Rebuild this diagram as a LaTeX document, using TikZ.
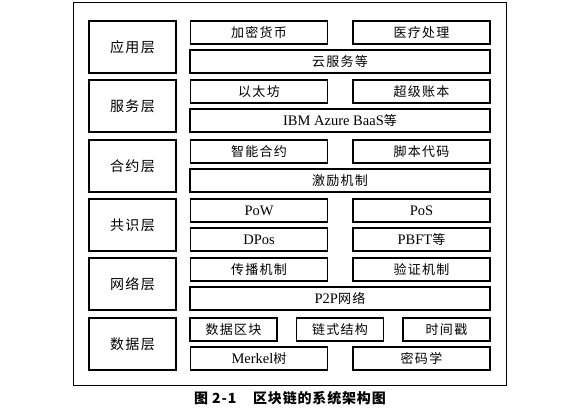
\documentclass[tikz,border=0pt]{standalone}
\usepackage{fontspec}
\setmainfont{Liberation Serif}
\newfontfamily\cjk[LetterSpace=10]{Noto Sans CJK SC}
\newfontfamily\capfont[LetterSpace=6]{Noto Sans CJK SC}

\begin{document}
\begin{tikzpicture}[x=1pt, y=-1pt,
  layer/.style={draw, line width=1.2pt, minimum width=87pt, minimum height=52pt,
    inner sep=0pt, font=\cjk\fontsize{14}{14}\selectfont},
  item/.style={draw, line width=1.1pt, minimum height=23pt, inner sep=0pt,
    font=\fontsize{14.5}{14.5}\selectfont},
  half/.style={item, minimum width=137pt},
  full/.style={item, minimum width=300pt},
  third/.style={item, minimum width=87pt}]
  \useasboundingbox (0, 0) rectangle (581, 410);
  \draw[line width=1pt] (73, 2) rectangle (506, 385);

  % layer names
  \node[layer] (app) at (132.5, 47) {应用层};
  \node[layer] (svc) at (132.5, 106) {服务层};
  \node[layer] (ctr) at (132.5, 166) {合约层};
  \node[layer] (cns) at (132.5, 225) {共识层};
  \node[layer] (net) at (132.5, 284) {网络层};
  \node[layer] (dat) at (132.5, 344) {数据层};

  % application
  \node[half] (coin) at (259, 32.5) {\cjk\fontsize{13}{13}\selectfont 加密货币};
  \node[half] (med) at (421.5, 32.5) {\cjk\fontsize{13}{13}\selectfont 医疗处理};
  \node[full] (cloud) at (340, 61.5) {\cjk\fontsize{13}{13}\selectfont 云服务等};
  % service
  \node[half] (eth) at (259, 91.5) {\cjk\fontsize{13}{13}\selectfont 以太坊};
  \node[half] (ledger) at (421.5, 91.5) {\cjk\fontsize{13}{13}\selectfont 超级账本};
  \node[full] (baas) at (340, 120.5) {IBM Azure BaaS{\cjk\fontsize{13}{13}\selectfont 等}};
  % contract
  \node[half] (smart) at (259, 151.5) {\cjk\fontsize{13}{13}\selectfont 智能合约};
  \node[half] (script) at (421.5, 151.5) {\cjk\fontsize{13}{13}\selectfont 脚本代码};
  \node[full] (reward) at (340, 180.5) {\cjk\fontsize{13}{13}\selectfont 激励机制};
  % consensus
  \node[half] (pow) at (259, 210.5) {PoW};
  \node[half] (pos) at (421.5, 210.5) {PoS};
  \node[half] (dpos) at (259, 239.5) {DPos};
  \node[half] (pbft) at (421.5, 239.5) {PBFT{\cjk\fontsize{13}{13}\selectfont 等}};
  % network
  \node[half] (spread) at (259, 269.5) {\cjk\fontsize{13}{13}\selectfont 传播机制};
  \node[half] (verify) at (421.5, 269.5) {\cjk\fontsize{13}{13}\selectfont 验证机制};
  \node[full] (p2p) at (340, 298.5) {P2P{\cjk\fontsize{13}{13}\selectfont 网络}};
  % data
  \node[third] (block) at (233.5, 329.5) {\cjk\fontsize{13}{13}\selectfont 数据区块};
  \node[third] (chain) at (340, 329.5) {\cjk\fontsize{13}{13}\selectfont 链式结构};
  \node[third] (stamp) at (446.5, 329.5) {\cjk\fontsize{13}{13}\selectfont 时间戳};
  \node[half] (merkle) at (259, 358.5) {Merkel{\cjk\fontsize{13}{13}\selectfont 树}};
  \node[half] (crypto) at (421.5, 358.5) {\cjk\fontsize{13}{13}\selectfont 密码学};

  \node[font=\capfont\bfseries\fontsize{14}{14}\selectfont] (cap) at (290, 398)
    {图 2-1\hspace{1.2em}区块链的系统架构图};
\end{tikzpicture}
\end{document}
